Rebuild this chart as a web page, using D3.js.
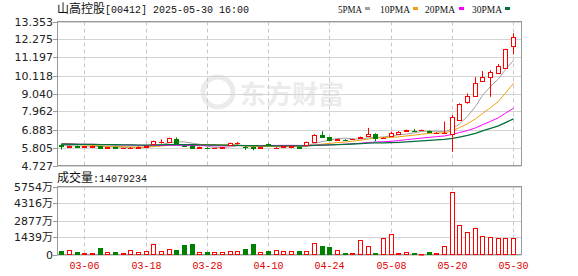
<!DOCTYPE html>
<html>
<head>
<meta charset="utf-8">
<script src="https://cdn.jsdelivr.net/npm/d3@7"></script>
<style>
body { margin: 0; background: #fff; }
svg { display: block; }
</style>
</head>
<body>
<svg id="chart" width="578" height="276"></svg>
<script>
/**************************
 * Data
 **************************/
var dates = ['03-03','03-04','03-05','03-06','03-07','03-10','03-11','03-12','03-13','03-14',
	'03-17','03-18','03-19','03-20','03-21','03-24','03-25','03-26','03-27','03-28',
	'03-31','04-01','04-02','04-03','04-07','04-08','04-09','04-10','04-11','04-14',
	'04-15','04-16','04-17','04-22','04-23','04-24','04-25','04-28','04-29','04-30',
	'05-02','05-06','05-07','05-08','05-09','05-12','05-13','05-14','05-15','05-16',
	'05-19','05-20','05-21','05-22','05-23','05-26','05-27','05-28','05-29','05-30'];

var opens = [5.98,5.84,5.90,5.85,5.86,5.88,5.78,5.82,5.77,5.78,
	5.80,5.84,6.04,6.15,6.13,6.30,5.92,5.92,5.80,5.79,
	5.75,5.80,5.96,6.07,5.86,5.84,5.78,6.02,5.78,5.84,
	5.86,5.84,5.98,6.14,6.56,6.42,6.27,6.28,6.30,6.37,
	6.49,6.64,6.37,6.52,6.60,6.80,6.82,6.83,6.80,6.66,
	6.66,6.60,7.45,8.55,8.88,9.78,10.00,10.24,10.59,11.87];
var closes = [5.90,5.88,5.86,5.87,5.88,5.80,5.81,5.79,5.78,5.80,
	5.84,5.90,6.19,6.15,6.38,6.10,5.88,5.80,5.82,5.77,
	5.77,5.82,6.08,6.09,5.82,5.80,5.81,5.96,5.80,5.87,
	5.88,5.80,6.14,6.56,6.46,6.26,6.29,6.26,6.32,6.43,
	6.63,6.40,6.40,6.66,6.76,6.83,6.78,6.85,6.72,6.70,
	6.70,7.62,8.40,8.92,9.68,10.02,10.30,10.68,11.69,12.45];
var highs = [6.02,5.92,5.92,5.90,5.92,5.90,5.84,5.86,5.80,5.84,
	5.87,5.93,6.22,6.29,6.40,6.41,5.95,5.94,5.86,5.82,
	5.79,5.84,6.10,6.14,5.88,5.86,5.83,6.05,5.82,5.89,
	5.90,5.86,6.16,6.60,6.78,6.44,6.33,6.30,6.34,6.46,
	6.98,6.66,6.42,6.76,6.78,6.88,6.92,6.88,6.82,6.72,
	7.36,7.74,8.45,9.04,10.02,10.38,10.44,10.80,11.72,12.65];
var lows = [5.68,5.80,5.82,5.82,5.83,5.76,5.76,5.74,5.75,5.76,
	5.78,5.82,6.00,6.04,6.10,6.08,5.84,5.78,5.74,5.76,
	5.73,5.79,5.95,5.98,5.66,5.64,5.76,5.92,5.76,5.82,
	5.84,5.77,5.96,6.12,6.44,6.24,6.22,6.24,6.29,6.35,
	6.47,6.17,6.35,6.50,6.58,6.76,6.76,6.80,6.70,6.64,
	6.64,5.55,7.42,8.42,8.85,9.75,8.84,10.20,10.55,11.38];

// volume in 万 shares
var volumes = [279,362,195,167,167,530,251,195,111,418,
	195,279,864,334,502,362,780,864,251,195,
	251,251,334,279,446,864,251,279,418,334,
	334,279,334,1003,697,613,418,111,111,1254,
	697,111,1421,1756,167,251,111,28,195,111,
	752,5295,2508,1923,2202,1589,1449,1366,1366,1408];

// closes before 03-03, only used to warm up the moving averages
var prevCloses = [5.96,5.98,5.95,5.97,6.00,5.99,5.97,5.96,5.98,6.00,
	5.99,5.97,5.95,5.96,5.98,6.00,5.99,5.97,5.96,5.98,
	6.12,6.18,6.22,6.20,6.10,6.00,5.96,5.92,5.94];

var priceTicks = [4.727, 5.805, 6.883, 7.962, 9.040, 10.118, 11.197, 12.275, 13.353];
var volTicks = [0, 1439, 2877, 4316, 5754];
var dateTicks = ['03-06','03-18','03-28','04-10','04-24','05-08','05-20','05-30'];

var maPeriods = [5, 10, 20, 30];
var maNames = ['5PMA', '10PMA', '20PMA', '30PMA'];
var maColors = ['#a0a0a0', '#f0a010', '#ff00ff', '#00703c'];

var titleName = '山高控股[00412]';
var titleTime = '2025-05-30 16:00';
var volTitle = '成交量:14079234';

/**************************
 * Layout
 **************************/
var UP = '#ff0000', DOWN = '#008000';
var left = 57.5, right = 521.5;
var pTop = 21.5, pBottom = 165.5;
var vTop = 186.5, vBottom = 254.5;

var svg = d3.select('#chart');

var x = d3.scaleBand().domain(dates).range([56.2, 518.2]).padding(0.35);
var bw = x.bandwidth();
var cx = function(i) { return Math.round(x(dates[i]) + bw / 2) + 0.5; };

var y = d3.scaleLinear().domain([4.727, 13.353]).range([pBottom, pTop]);
var yv = d3.scaleLinear().domain([0, 5754]).range([vBottom, vTop]);

// watermark
var wm = svg.append('g').attr('fill', '#ebebeb');
wm.append('circle').attr('cx', 218).attr('cy', 92).attr('r', 15)
	.attr('fill', 'none').attr('stroke', '#ebebeb').attr('stroke-width', 5);
wm.append('text').attr('x', 240).attr('y', 104)
	.attr('font-family', 'Noto Sans CJK SC').attr('font-weight', 'bold')
	.attr('font-size', 26).text('东方财富');

// grid lines
var grid = svg.append('g');
grid.selectAll('line.hp').data(priceTicks).enter().append('line')
	.attr('x1', left).attr('x2', right)
	.attr('y1', function(d) { return Math.round(y(d)) + 0.5; })
	.attr('y2', function(d) { return Math.round(y(d)) + 0.5; })
	.attr('stroke', '#d4d4d4');
grid.selectAll('line.hv').data(volTicks).enter().append('line')
	.attr('x1', left).attr('x2', right)
	.attr('y1', function(d) { return Math.round(yv(d)) + 0.5; })
	.attr('y2', function(d) { return Math.round(yv(d)) + 0.5; })
	.attr('stroke', '#d4d4d4');
[[pTop, pBottom], [vTop, vBottom]].forEach(function(r) {
	grid.selectAll(null).data(dateTicks).enter().append('line')
		.attr('x1', function(d) { return cx(dates.indexOf(d)); })
		.attr('x2', function(d) { return cx(dates.indexOf(d)); })
		.attr('y1', r[0]).attr('y2', r[1])
		.attr('stroke', '#c8c8c8').attr('stroke-dasharray', '4,3');
});

// panel frames
svg.append('rect').attr('x', left).attr('y', pTop).attr('width', right - left).attr('height', pBottom - pTop)
	.attr('fill', 'none').attr('stroke', '#999');
svg.append('rect').attr('x', left).attr('y', vTop).attr('width', right - left).attr('height', vBottom - vTop)
	.attr('fill', 'none').attr('stroke', '#999');

// y axes
var axisFont = 'DejaVu Sans, Verdana, sans-serif';
var pAxis = svg.append('g');
pAxis.selectAll('text').data(priceTicks).enter().append('text')
	.attr('x', 53).attr('y', function(d) { return y(d) + 4; })
	.attr('text-anchor', 'end').attr('font-family', axisFont).attr('font-size', 11)
	.attr('fill', '#222').text(d3.format('.3f'));
pAxis.selectAll('line').data(priceTicks).enter().append('line')
	.attr('x1', 53).attr('x2', left)
	.attr('y1', function(d) { return Math.round(y(d)) + 0.5; })
	.attr('y2', function(d) { return Math.round(y(d)) + 0.5; })
	.attr('stroke', '#999');

var vAxis = svg.append('g');
vAxis.selectAll('text').data(volTicks).enter().append('text')
	.attr('x', 53).attr('y', function(d) { return yv(d) + 4; })
	.attr('text-anchor', 'end').attr('font-family', axisFont + ', Noto Sans CJK SC').attr('font-size', 11)
	.attr('fill', '#222').text(function(d) { return d === 0 ? '0' : d + '万'; });
vAxis.selectAll('line').data(volTicks).enter().append('line')
	.attr('x1', 53).attr('x2', left)
	.attr('y1', function(d) { return Math.round(yv(d)) + 0.5; })
	.attr('y2', function(d) { return Math.round(yv(d)) + 0.5; })
	.attr('stroke', '#999');

// x labels
svg.append('g').selectAll('text').data(dateTicks).enter().append('text')
	.attr('x', function(d) { return cx(dates.indexOf(d)); }).attr('y', 269)
	.attr('text-anchor', 'middle').attr('font-family', 'Liberation Mono, monospace').attr('font-size', 10)
	.attr('fill', '#e00000').text(function(d) { return d; });

// moving averages
var allCloses = prevCloses.concat(closes);
var k = prevCloses.length;
maPeriods.forEach(function(p, m) {
	var ma = closes.map(function(c, i) {
		return d3.mean(allCloses.slice(k + i - p + 1, k + i + 1));
	});
	var line = d3.line()
		.x(function(d, i) { return cx(i); })
		.y(function(d) { return y(d); });
	svg.append('path').datum(ma).attr('d', line)
		.attr('fill', 'none').attr('stroke', maColors[m]).attr('stroke-width', m === 3 ? 1.3 : 1);
});

// candles
var candles = svg.append('g');
dates.forEach(function(d, i) {
	var up = closes[i] >= opens[i];
	var col = up ? UP : DOWN;
	var c = cx(i);
	candles.append('line').attr('x1', c).attr('x2', c)
		.attr('y1', y(highs[i])).attr('y2', y(lows[i])).attr('stroke', col);
	var top = Math.round(y(Math.max(opens[i], closes[i])));
	var bot = Math.round(y(Math.min(opens[i], closes[i])));
	candles.append('rect')
		.attr('x', c - 2).attr('y', top + 0.5)
		.attr('width', 4).attr('height', Math.max(bot - top, 0.01))
		.attr('fill', up ? '#fff' : col).attr('stroke', col);
});

// volume bars
var vols = svg.append('g');
dates.forEach(function(d, i) {
	var up = closes[i] >= opens[i];
	var col = up ? UP : DOWN;
	var c = cx(i);
	var top = Math.round(yv(volumes[i]));
	vols.append('rect')
		.attr('x', c - 2).attr('y', top + 0.5)
		.attr('width', 4).attr('height', Math.max(Math.round(vBottom) - top - 1, 0.5))
		.attr('fill', up ? '#fff' : col).attr('stroke', col);
});

// titles
var titleFont = 'Liberation Mono, monospace';
var t = svg.append('text').attr('x', 57).attr('y', 13).attr('fill', '#111');
t.append('tspan').attr('font-family', 'Noto Sans CJK SC').attr('font-size', 12).text(titleName.slice(0, 4));
t.append('tspan').attr('font-family', titleFont).attr('font-size', 10).text(titleName.slice(4) + ' ' + titleTime);

var vt = svg.append('text').attr('x', 57).attr('y', 182).attr('fill', '#111');
vt.append('tspan').attr('font-family', 'Noto Sans CJK SC').attr('font-size', 12).text(volTitle.slice(0, 3));
vt.append('tspan').attr('font-family', titleFont).attr('font-size', 10).text(volTitle.slice(3));

// legend
var legX = [338, 380, 425, 472];
var legW = [24, 30, 30, 30];
var swatchX = [365, 413, 459, 505];
var leg = svg.append('g');
maNames.forEach(function(n, m) {
	leg.append('text').attr('x', legX[m]).attr('y', 13)
		.attr('font-family', 'Liberation Serif, serif').attr('font-size', 11)
		.attr('textLength', legW[m]).attr('lengthAdjust', 'spacingAndGlyphs')
		.attr('fill', '#111').text(n);
	leg.append('rect').attr('x', swatchX[m]).attr('y', 7)
		.attr('width', 5).attr('height', 3).attr('fill', maColors[m]);
});
</script>
</body>
</html>
